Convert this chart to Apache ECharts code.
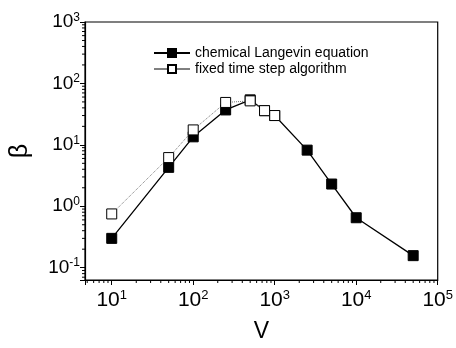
<!DOCTYPE html>
<html>
<head>
<meta charset="utf-8">
<script src="https://cdn.jsdelivr.net/npm/echarts@6/dist/echarts.min.js"></script>
<style>
  html, body { margin: 0; padding: 0; background: #fff; }
  #main { width: 456px; height: 348px; }
</style>
</head>
<body>
<div id="main"></div>
<script>
// V values (system size)
const vCle = [10, 50, 100, 250, 500, 750, 1000, 2500, 5000, 10000, 50000];
const betaCle = [0.3, 4.3, 13.5, 37, 54, 36, 30, 8.2, 2.3, 0.65, 0.157];
const vFixed = [10, 50, 100, 250, 500, 750, 1000];
const betaFixed = [0.75, 6.2, 17.5, 49, 52, 36, 30];

// minor tick values (2..9 per decade)
const xMinor = [5, 6, 7, 8, 9, 20, 30, 40, 50, 60, 70, 80, 90, 200, 300, 400, 500, 600, 700, 800, 900,
  2000, 3000, 4000, 5000, 6000, 7000, 8000, 9000, 20000, 30000, 40000, 50000, 60000, 70000, 80000, 90000];
const yMinor = [0.07, 0.08, 0.09, 0.2, 0.3, 0.4, 0.5, 0.6, 0.7, 0.8, 0.9, 2, 3, 4, 5, 6, 7, 8, 9,
  20, 30, 40, 50, 60, 70, 80, 90, 200, 300, 400, 500, 600, 700, 800, 900];

const font = 'Liberation Sans, Arial, sans-serif';
const xMin = 4.7, xMax = 100000, yMin = 0.063, yMax = 1000;

const chart = echarts.init(document.getElementById('main'));

// 10^n label with superscript
const powLabel = (v) => {
  const e = Math.round(Math.log10(v));
  if (Math.abs(Math.log10(v) - e) > 1e-6) return '';
  return '{b|10}{s|' + e + '}';
};
const richX = {
  b: { fontSize: 21, fontFamily: font, color: '#000' },
  s: { fontSize: 13, fontFamily: font, color: '#000', padding: [0, 0, 10, 0] },
};
const richY = {
  b: { fontSize: 19, fontFamily: font, color: '#000' },
  s: { fontSize: 12, fontFamily: font, color: '#000', padding: [0, 0, 9, 0] },
};

// small tick drawn below (x) or left (y) of the axis
const minorTicks = (dx, dy) => (params, api) => {
  const p = api.coord([api.value(0), api.value(1)]);
  return {
    type: 'line',
    shape: { x1: p[0], y1: p[1], x2: p[0] + dx, y2: p[1] + dy },
    style: { stroke: '#000', lineWidth: 1 },
  };
};

const option = {
  animation: false,
  grid: {
    left: 83, right: 15, top: 22, bottom: 61,
    show: true, borderColor: '#000', borderWidth: 1.2,
  },
  legend: {
    orient: 'vertical',
    left: 153, top: 46, padding: 0,
    itemWidth: 36, itemHeight: 10, itemGap: 2,
    textStyle: { fontSize: 14, fontFamily: font, color: '#000' },
    data: [
      { name: 'chemical Langevin equation', lineStyle: { width: 2, color: '#000' } },
      { name: 'fixed time step algorithm', lineStyle: { width: 1, color: '#000', type: 'solid' } },
    ],
  },
  xAxis: {
    type: 'log', logBase: 10, min: xMin, max: xMax,
    name: 'V', nameLocation: 'middle', nameGap: 40,
    nameTextStyle: { fontSize: 23, fontFamily: font, color: '#000' },
    splitLine: { show: false },
    axisLine: { lineStyle: { color: '#000', width: 1.2 } },
    axisTick: { inside: false, length: 5, lineStyle: { color: '#000' } },
    axisLabel: { margin: 9, formatter: powLabel, rich: richX },
  },
  yAxis: {
    type: 'log', logBase: 10, min: yMin, max: yMax,
    name: 'β', nameLocation: 'middle', nameGap: 52, nameRotate: 90,
    nameTextStyle: { fontSize: 25, fontFamily: font, color: '#000' },
    splitLine: { show: false },
    axisLine: { lineStyle: { color: '#000', width: 1.2 } },
    axisTick: { inside: false, length: 5, lineStyle: { color: '#000' } },
    axisLabel: { margin: 5, formatter: powLabel, rich: richY },
  },
  series: [
    {
      name: 'chemical Langevin equation',
      type: 'line',
      data: vCle.map((v, i) => [v, betaCle[i]]),
      symbol: 'rect', symbolSize: 10,
      lineStyle: { color: '#000', width: 1.3 },
      itemStyle: { color: '#000', borderColor: '#000', borderWidth: 1 },
      z: 2,
    },
    {
      name: 'fixed time step algorithm',
      type: 'line',
      data: vFixed.map((v, i) => [v, betaFixed[i]]),
      symbol: 'rect', symbolSize: 10,
      lineStyle: { color: '#777', width: 1, type: 'dotted' },
      itemStyle: { color: '#fff', borderColor: '#000', borderWidth: 1 },
      z: 3,
    },
    {
      type: 'custom', silent: true, clip: false,
      data: xMinor.map((v) => [v, yMin]),
      renderItem: minorTicks(0, 3),
    },
    {
      type: 'custom', silent: true, clip: false,
      data: yMinor.map((v) => [xMin, v]),
      renderItem: minorTicks(-3, 0),
    },
  ],
};

chart.setOption(option);
</script>
</body>
</html>
